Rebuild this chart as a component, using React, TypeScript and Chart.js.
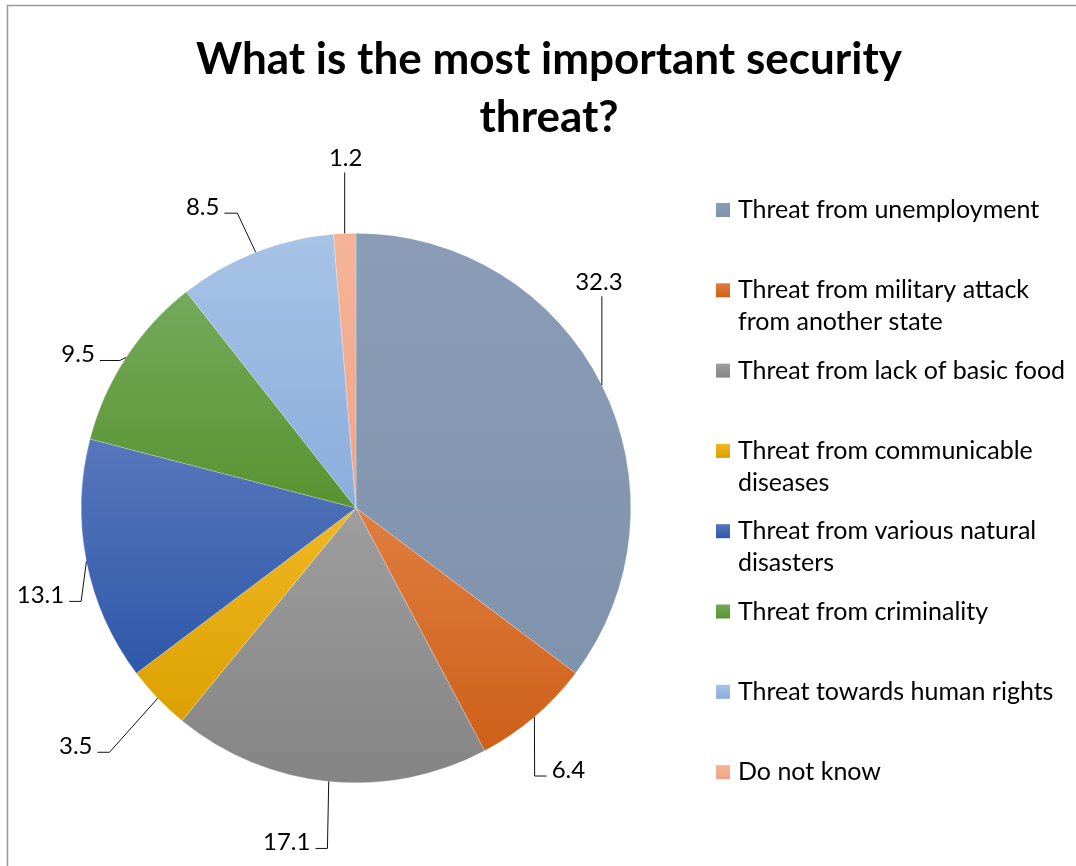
import React, { useEffect, useRef } from "react";
import { Chart, registerables } from "chart.js";

Chart.register(...registerables);

// ---------- data ----------
const titleLines = ["What is the most important security", "threat?"];

const categories = [
  "Threat from unemployment",
  "Threat from military attack from another state",
  "Threat from lack of basic food",
  "Threat from communicable diseases",
  "Threat from various natural disasters",
  "Threat from criminality",
  "Threat towards human rights",
  "Do not know",
];

// legend text split into the lines shown in the reference
const legendLines = [
  ["Threat from unemployment"],
  ["Threat from military attack", "from another state"],
  ["Threat from lack of basic food"],
  ["Threat from communicable", "diseases"],
  ["Threat from various natural", "disasters"],
  ["Threat from criminality"],
  ["Threat towards human rights"],
  ["Do not know"],
];

const values = [32.3, 6.4, 17.1, 3.5, 13.1, 9.5, 8.5, 1.2];

const colorsTop = ["#8A9CB6", "#E07D40", "#9E9E9E", "#EFB723", "#5876BC", "#74AA5C", "#A7C3E6", "#F5B497"];
const colorsBottom = ["#8093AD", "#CE6018", "#848484", "#DCA100", "#2D59A9", "#58932F", "#8AADDC", "#F1A386"];

// label placement relative to the slice's edge anchor (style, not data)
const labelPlacement = [
  { dx: -3, dy: -103, side: "above", run: 0 },
  { dx: 34, dy: 53, side: "right", run: 12 },
  { dx: -42, dy: 61, side: "left", run: 12 },
  { dx: -82, dy: 48, side: "left", run: 12 },
  { dx: -46, dy: 34, side: "left", run: 12 },
  { dx: -48, dy: -3, side: "left", run: 20 },
  { dx: -53, dy: -45, side: "left", run: 13 },
  { dx: 1, dy: -75, side: "above", run: 0 },
];

const FONT = "Lato, 'Open Sans', 'DejaVu Sans', sans-serif";

function sliceGradient(chart: any, i: number) {
  const area = chart.chartArea;
  if (!area) return colorsTop[i];
  const cx = (area.left + area.right) / 2;
  const cy = (area.top + area.bottom) / 2;
  const r = Math.min(area.right - area.left, area.bottom - area.top) / 2;
  const total = values.reduce((a, b) => a + b, 0);
  let before = 0;
  for (let k = 0; k < i; k++) before += values[k];
  const start = (before / total) * Math.PI * 2 - Math.PI / 2;
  const end = ((before + values[i]) / total) * Math.PI * 2 - Math.PI / 2;
  const ys = [cy, cy + r * Math.sin(start), cy + r * Math.sin(end)];
  if (start <= Math.PI / 2 && end >= Math.PI / 2) ys.push(cy + r);
  if (start <= -Math.PI / 2 + 1e-9 || end >= (3 * Math.PI) / 2 - 1e-9) ys.push(cy - r);
  const minY = Math.min(...ys);
  const maxY = Math.max(...ys);
  const g = chart.ctx.createLinearGradient(0, minY, 0, maxY + 0.001);
  g.addColorStop(0, colorsTop[i]);
  g.addColorStop(1, colorsBottom[i]);
  return g;
}

const framePlugin = {
  id: "frame",
  beforeDraw(chart: any) {
    const ctx = chart.ctx;
    ctx.save();
    ctx.fillStyle = "#ffffff";
    ctx.fillRect(0, 0, chart.width, chart.height);
    ctx.strokeStyle = "#9a9a9a";
    ctx.lineWidth = 1.5;
    ctx.beginPath();
    ctx.moveTo(7.5, chart.height);
    ctx.lineTo(7.5, 5.5);
    ctx.lineTo(chart.width, 5.5);
    ctx.stroke();
    ctx.restore();
  },
};

const decorPlugin = {
  id: "decor",
  afterDraw(chart: any) {
    const ctx = chart.ctx;
    ctx.save();

    // title
    ctx.fillStyle = "#000";
    ctx.font = `bold 44px ${FONT}`;
    ctx.textAlign = "center";
    ctx.textBaseline = "middle";
    titleLines.forEach((t, k) => ctx.fillText(t, 549, 60 + k * 58));

    // data labels with leader lines
    const meta = chart.getDatasetMeta(0);
    ctx.font = `24px ${FONT}`;
    meta.data.forEach((arc: any, i: number) => {
      const p = arc.getProps(["x", "y", "startAngle", "endAngle", "outerRadius"], true);
      const mid = (p.startAngle + p.endAngle) / 2;
      const ax = p.x + p.outerRadius * Math.cos(mid);
      const ay = p.y + p.outerRadius * Math.sin(mid);
      const pl = labelPlacement[i];
      const tx = ax + pl.dx;
      const ty = ay + pl.dy;
      const txt = values[i].toFixed(1);
      const w = ctx.measureText(txt).width;
      ctx.fillStyle = "#000";
      ctx.textAlign = "center";
      ctx.textBaseline = "middle";
      ctx.fillText(txt, tx, ty);

      ctx.strokeStyle = "#111";
      ctx.lineWidth = 1;
      ctx.beginPath();
      if (pl.side === "above") {
        ctx.moveTo(ax, ty + 14);
        ctx.lineTo(ax, ay);
      } else if (pl.side === "left") {
        const sx = tx + w / 2 + 5;
        const ly = ty + 6;
        ctx.moveTo(sx, ly);
        ctx.lineTo(sx + pl.run, ly);
        ctx.lineTo(ax, ay);
      } else {
        const sx = tx - w / 2 - 5;
        const ly = ty + 6;
        ctx.moveTo(sx, ly);
        ctx.lineTo(sx - pl.run, ly);
        ctx.lineTo(ax, ay);
      }
      ctx.stroke();
    });

    // legend
    const legendTop = 210;
    const legendStep = 80.3;
    const legendLineH = 32;
    ctx.font = `25px ${FONT}`;
    ctx.textAlign = "left";
    ctx.textBaseline = "middle";
    legendLines.forEach((lines, i) => {
      const y = legendTop + i * legendStep;
      const g = ctx.createLinearGradient(0, y - 7, 0, y + 7);
      g.addColorStop(0, colorsTop[i]);
      g.addColorStop(1, colorsBottom[i]);
      ctx.fillStyle = g;
      ctx.fillRect(716, y - 7, 14, 14);
      ctx.fillStyle = "#000";
      lines.forEach((ln, k) => ctx.fillText(ln, 738, y + k * legendLineH));
    });

    ctx.restore();
  },
};

export default function App() {
  const ref = useRef<HTMLCanvasElement | null>(null);

  useEffect(() => {
    if (!ref.current) return;
    const chart = new Chart(ref.current, {
      type: "pie",
      data: {
        labels: categories,
        datasets: [
          {
            data: values,
            backgroundColor: (c: any) => sliceGradient(c.chart, c.dataIndex),
            borderColor: "rgba(255,255,255,0.6)",
            borderWidth: 0.4,
          },
        ],
      },
      options: {
        responsive: false,
        animation: false,
        layout: { padding: { left: 81, top: 233, right: 445, bottom: 83 } },
        plugins: {
          legend: { display: false },
          title: { display: false },
          tooltip: { enabled: false },
        },
      },
      plugins: [framePlugin, decorPlugin],
    });
    return () => chart.destroy();
  }, []);

  return (
    <div style={{ position: "fixed", left: 0, top: 0, width: 1076, height: 866, background: "#fff" }}>
      <canvas ref={ref} width={1076} height={866} style={{ width: 1076, height: 866, display: "block" }} />
    </div>
  );
}
